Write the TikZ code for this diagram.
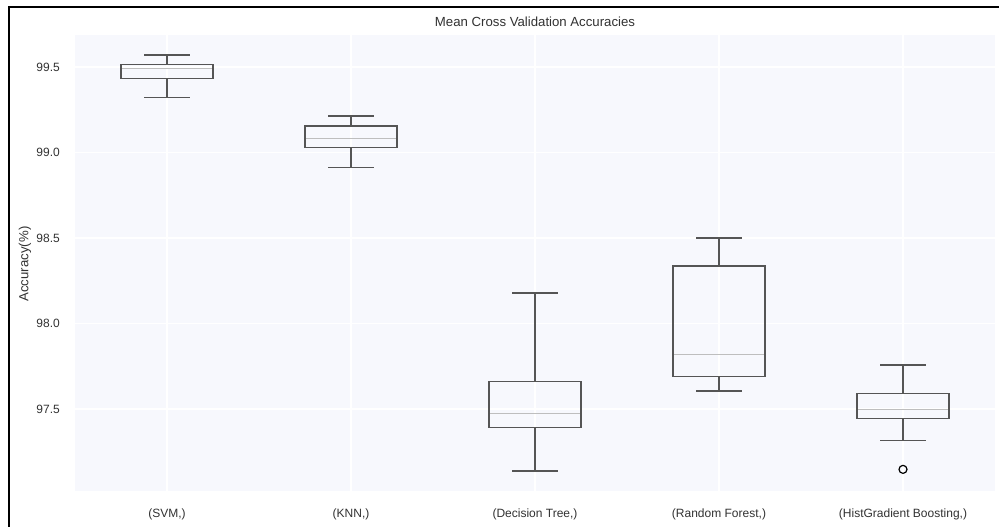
\documentclass[tikz,border=0pt]{standalone}
\usepackage{fontspec}
\setmainfont{Liberation Sans}
\definecolor{panelbg}{RGB}{247,248,253}
\definecolor{boxgray}{RGB}{85,85,85}
\definecolor{medgray}{RGB}{190,190,190}
\definecolor{txtgray}{RGB}{50,50,50}
\newcommand\boxwhisk[6]{%
  % #1 = x centre, #2..#6 = lower whisker, Q1, median, Q3, upper whisker
  \draw[boxline] ({#1-46},{yv(#3)}) rectangle ({#1+46},{yv(#5)});
  \draw[medline] ({#1-45},{yv(#4)}) -- ({#1+45},{yv(#4)});
  \draw[boxline] (#1,{yv(#5)}) -- (#1,{yv(#6)}) ({#1-23},{yv(#6)}) -- ({#1+23},{yv(#6)});
  \draw[boxline] (#1,{yv(#3)}) -- (#1,{yv(#2)}) ({#1-23},{yv(#2)}) -- ({#1+23},{yv(#2)});
}
\begin{document}
\begin{tikzpicture}[x=1pt,y=-1pt,
  declare function={yv(\v)=409-(\v-97.5)*171;},
  boxline/.style={draw=boxgray,line width=1.2pt},
  medline/.style={draw=medgray,line width=1.2pt},
  gridline/.style={draw=white,line width=1.2pt},
  lbl/.style={font=\fontsize{12}{14}\selectfont,text=txtgray,inner sep=0pt},
  biglbl/.style={lbl,font=\fontsize{13.2}{15}\selectfont},
  ticklabel/.style={lbl,anchor=east},
  catlabel/.style={lbl,anchor=base}]
  \useasboundingbox (0,0) rectangle (999,527);
  \fill[white] (0,0) rectangle (999,527);
  % frame
  \draw[black,line width=2pt] (9,527) -- (9,7) -- (999,7);
  % plotting panel
  \fill[panelbg] (75,35) rectangle (995,491);
  \foreach \xc in {167,351,535,719,903}
    \draw[gridline] (\xc,35) -- (\xc,491);
  \foreach \v/\t in {97.5/97.5,98/98.0,98.5/98.5,99/99.0,99.5/99.5}{
    \draw[gridline] (75,{yv(\v)}) -- (995,{yv(\v)});
    \node[ticklabel] (tick\t) at (60,{yv(\v)}) {\t};
  }
  % boxes
  \boxwhisk{167}{99.320}{99.433}{99.492}{99.516}{99.570}
  \boxwhisk{351}{98.913}{99.030}{99.083}{99.155}{99.213}
  \boxwhisk{535}{97.137}{97.393}{97.475}{97.660}{98.178}
  \boxwhisk{719}{97.605}{97.689}{97.820}{98.336}{98.500}
  \boxwhisk{903}{97.315}{97.446}{97.498}{97.592}{97.757}
  \draw[draw=black,line width=1.2pt] (903,{yv(97.147)}) circle (4);
  % labels
  \node[biglbl] (title) at (535,22) {Mean Cross Validation Accuracies};
  \node[biglbl,rotate=90] (ylab) at (25,264) {Accuracy(\%)};
  \node[catlabel] (c1) at (167,517) {(SVM,)};
  \node[catlabel] (c2) at (351,517) {(KNN,)};
  \node[catlabel] (c3) at (535,517) {(Decision Tree,)};
  \node[catlabel] (c4) at (719,517) {(Random Forest,)};
  \node[catlabel] (c5) at (903,517) {(HistGradient Boosting,)};
\end{tikzpicture}
\end{document}
